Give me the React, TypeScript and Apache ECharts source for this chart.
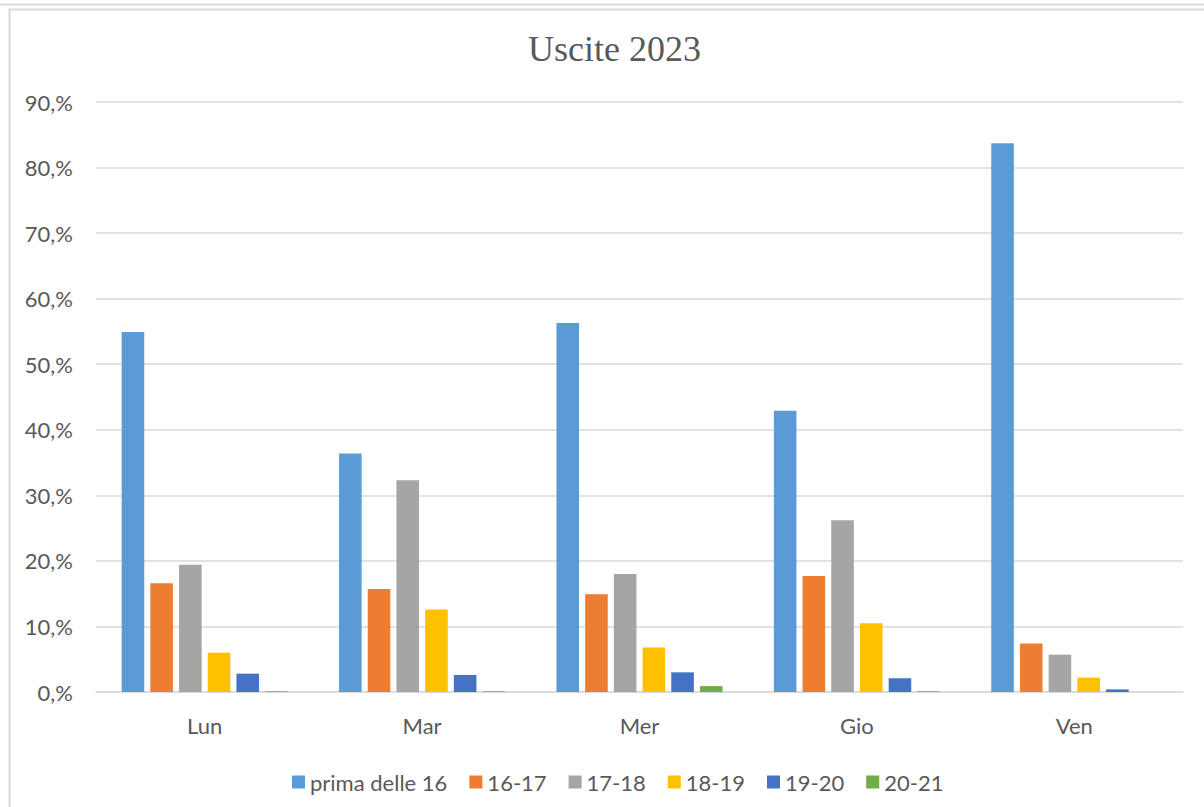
import React, { useEffect, useRef } from "react";
import * as echarts from "echarts";

const categories = ["Lun", "Mar", "Mer", "Gio", "Ven"];
const seriesNames = ["prima delle 16", "16-17", "17-18", "18-19", "19-20", "20-21"];
const prima16 = [54.9, 36.4, 56.3, 42.9, 83.7];
const h16_17 = [16.6, 15.7, 14.9, 17.7, 7.4];
const h17_18 = [19.4, 32.3, 18.0, 26.2, 5.7];
const h18_19 = [6.0, 12.6, 6.8, 10.5, 2.2];
const h19_20 = [2.8, 2.6, 3.0, 2.1, 0.4];
const h20_21 = [0.1, 0.1, 0.9, 0.1, 0];
const seriesData = [prima16, h16_17, h17_18, h18_19, h19_20, h20_21];
const colors = ["#5B9BD5", "#ED7D31", "#A5A5A5", "#FFC000", "#4472C4", "#70AD47"];

const FONT = "Lato, 'Noto Sans', sans-serif";
const TXT = "#595959";

export default function App() {
  const ref = useRef<HTMLDivElement>(null);
  useEffect(() => {
    if (!ref.current) return;
    const chart = echarts.init(ref.current, null, { renderer: "svg" });
    chart.setOption({
      animation: false,
      backgroundColor: "#ffffff",
      color: colors,
      title: {
        text: "Uscite 2023",
        left: 523,
        top: 26,
        textStyle: {
          fontFamily: "'Liberation Serif', 'Times New Roman', serif",
          fontSize: 36,
          fontWeight: "normal",
          color: TXT,
        },
      },
      graphic: [
        {
          type: "line",
          shape: { x1: 0, y1: 4.5, x2: 1204, y2: 4.5 },
          style: { stroke: "#d9d9d9", lineWidth: 2 },
          silent: true,
        },
        {
          type: "rect",
          shape: { x: 9.5, y: 9.5, width: 1220, height: 820 },
          style: { fill: "none", stroke: "#d9d9d9", lineWidth: 2 },
          silent: true,
        },
      ],
      legend: {
        left: 287,
        top: 766,
        itemWidth: 13,
        itemHeight: 13,
        itemGap: 22,
        icon: "rect",
        textStyle: { fontFamily: FONT, fontSize: 22, color: TXT },
        data: seriesNames,
      },
      grid: { left: 96, right: 21, top: 102, bottom: 115, containLabel: false },
      xAxis: {
        type: "category",
        data: categories,
        axisLine: { show: true, lineStyle: { color: "#d9d9d9", width: 1.5 } },
        axisTick: { show: false },
        axisLabel: { fontFamily: FONT, fontSize: 22, color: TXT, margin: 22 },
      },
      yAxis: {
        type: "value",
        min: 0,
        max: 90,
        interval: 10,
        axisLine: { show: false },
        axisTick: { show: false },
        splitLine: { lineStyle: { color: "#d9d9d9", width: 1.5 } },
        axisLabel: {
          fontFamily: FONT,
          fontSize: 22,
          color: TXT,
          margin: 23,
          formatter: (v: number) => `${v},%`,
        },
      },
      series: seriesNames.map((name, i) => ({
        name,
        type: "bar",
        data: seriesData[i],
        barGap: "27%",
        barCategoryGap: "23.6%",
        itemStyle: { color: colors[i] },
      })),
    });
    return () => chart.dispose();
  }, []);
  return (
    <div
      ref={ref}
      style={{ position: "fixed", left: 0, top: 0, width: 1204, height: 807 }}
    />
  );
}
